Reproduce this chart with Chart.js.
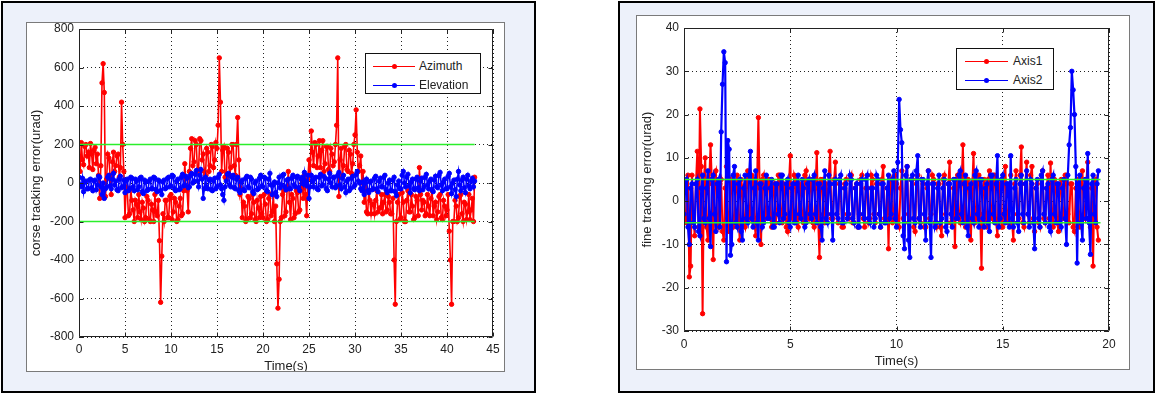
<!DOCTYPE html>
<html>
<head>
<meta charset="utf-8">
<script src="https://cdn.jsdelivr.net/npm/chart.js@4.4.1/dist/chart.umd.min.js"></script>
<style>
  body { margin: 0; width: 1156px; height: 394px; background: #fff; position: relative; overflow: hidden;
         font-family: "Liberation Sans", Arial, Helvetica, sans-serif; }
  .panel { position: absolute; background: #edf1fa; border: 2px solid #000; box-sizing: border-box; }
  .fig { position: absolute; background: #fff; outline: 1px solid #7a7a7a; overflow: hidden; }
  .fig canvas { position: absolute; left: 0; top: 0; }
  .legend { position: absolute; background: #fff; border: 1px solid #111; box-sizing: border-box;
            font-size: 12px; color: #222; padding-top: 3px; }
  .legend .row { position: relative; height: 19px; line-height: 19px; white-space: nowrap; }
  .legend .sample { position: absolute; top: 9px; height: 1px; }
  .legend .dot { position: absolute; top: -2px; width: 5px; height: 5px; border-radius: 50%; }
  .legend .txt { position: absolute; top: 0; }
</style>
</head>
<body>
<div class="panel" style="left:1px;top:1px;width:535px;height:392px"></div>
<div class="panel" style="left:618px;top:1px;width:537px;height:392px"></div>

<div class="fig" style="left:27px;top:23px;width:477px;height:348px">
  <canvas id="coarseChart" width="477" height="348"></canvas>
</div>
<div class="fig" style="left:637px;top:16px;width:492px;height:353px">
  <canvas id="fineChart" width="492" height="353"></canvas>
</div>

<div class="legend" id="coarseLegend" style="left:365px;top:53px;width:116px;height:41px"></div>
<div class="legend" id="fineLegend" style="left:956px;top:48px;width:98px;height:42px"></div>

<script>
// ---- coarse tracking (left), one row = 1 s ----
const coarseStep = 0.125; // s between samples
const azimuth = [
  130, 60, 210, 120, 95, 190, 200, 140,
  160, 80, 205, 150, 70, 170, 185, 100,
  150, 40, -80, 90, 520, 620, 470, -70,
  20, 150, 130, 40, -60, 110, 160, 60,
  90, 140, 150, 30, 80, 420, 200, 60,
  -180, -20, -40, -170, -160, -30, -90, -140,
  -200, -90, -110, -180, -60, -150, -190, -100,
  -130, -200, -180, -70, -90, -190, -200, -110,
  -140, -200, -60, -150, -170, -90, -300, -620,
  -380, -160, -200, -90, -90, -180, -180, -70,
  -60, -190, -150, -80, -100, -200, -190, -120,
  -80, -170, -160, -40, 100, -20, -40, -150,
  60, 180, 230, 90, 110, 220, 200, 60,
  70, 230, 220, 120, 150, 60, 40, 180,
  160, 60, 90, 200, 190, 80, 120, 210,
  180, 300, 650, 420, 60, 170, 190, 30,
  20, 180, 160, 40, 80, 200, 200, 90,
  40, 200, 340, 120, -60, -30, -180, -100,
  -120, -200, -190, -70, -80, -180, -160, -60,
  -100, -190, -200, -90, -130, -180, -70, -160,
  -180, -60, -110, -200, -190, -80, -60, -170,
  -150, -60, -200, -120, -420, -650, -500, -200,
  -180, -60, -40, -170, -150, -30, 60, -100,
  -190, -60, -80, -180, -160, -40, -50, -150,
  -140, -30, 0, -80, 40, -60, -170, 20,
  120, 40, 270, 160, 90, 210, 200, 80,
  140, 220, 80, 170, 220, 60, 100, 190,
  190, 70, 60, 180, 150, 90, 110, 200,
  300, 650, -70, 120, 180, 40, 90, 190,
  200, 70, 60, 170, 150, 50, 100, 200,
  250, 380, 160, 60, 90, 140, 0, 60,
  -100, -20, -150, -160, -40, -90, -160, -110,
  -110, -160, -90, -40, -150, -130, -130, -60,
  -160, -100, -60, -150, -140, -70, -100, -160,
  -160, -80, -400, -630, -200, -100, -60, -190,
  -180, -50, -100, -200, -200, -90, -40, -150,
  -150, -60, -120, -190, -180, -70, -90, -170,
  80, -60, -140, -90, -100, -170, -160, -60,
  -120, -170, -80, -40, -170, -120, -100, -190,
  -150, -70, -60, -180, -190, -90, -120, -170,
  -140, -60, -250, -400, -630, -200, -200, -90,
  -120, -200, -180, -70, -60, -160, -200, -100,
  -110, -190, -150, -60, -190, -140, -80, -200,
  30
];
const elevation = [
  30, -10, -20, 25, -45, 5, 10, -30,
  -30, 15, 20, -25, -40, 10, 15, -35,
  -10, 35, 30, -20, -60, 0, -80, -30,
  -20, 30, 40, -15, -30, 20, 50, -10,
  10, -35, -40, 20, 35, -25, -20, 15,
  -50, 10, 20, -40, -30, 30, 25, -20,
  -40, 20, 10, -35, -20, 25, 30, -45,
  -55, 15, 5, -40, -35, 10, 20, -30,
  -30, 30, 25, -35, -45, 15, 10, -40,
  -60, 5, 15, -30, -25, 25, 30, -20,
  -15, 40, 35, -30, -40, 10, 20, -35,
  -30, 30, 45, -15, -10, 35, 25, -25,
  -20, 40, 50, 0, 10, 45, 65, 10,
  -20, 40, 70, 20, -80, -30, 30, -20,
  -30, 15, 20, -35, -40, 10, 25, -30,
  -20, 30, 45, -10, -30, -60, -90, -20,
  10, 45, 50, -10, -20, 30, 40, -25,
  -30, 20, 30, -40, -50, 5, 15, -35,
  -40, 25, 35, -20, -25, 30, 20, -45,
  -55, 0, 10, -35, -30, 25, 40, -15,
  -20, 30, 25, -40, -45, 20, 50, -10,
  -60, -10, 5, -50, -70, 0, 30, -25,
  -10, 40, 45, -20, -35, 15, 20, -30,
  -30, 25, 40, -10, -20, 30, 35, -25,
  -40, 20, 30, -5, 55, 10, -15, 40,
  -80, -20, 40, 10, -20, 25, 30, -30,
  -35, 30, 45, -15, -10, 35, 25, -30,
  -40, 20, 50, 0, -20, 30, 30, -25,
  -15, 40, 55, -10, -30, 25, 40, -20,
  -50, 10, 20, -40, -30, 25, 35, -20,
  -10, 45, 60, 10, 0, -30, -40, 5,
  -60, 0, 20, -40, -50, 5, 10, -35,
  -30, 25, 35, -30, -45, 10, 25, -20,
  -20, 30, 40, -35, -50, 0, 15, -40,
  -40, 15, 30, -45, -65, -10, 10, -30,
  -30, 40, 60, 0, -20, 30, 45, -15,
  -50, 5, 20, -30, -35, 20, 30, -25,
  -40, 10, 25, -35, -20, 30, 45, -10,
  -30, 10, 20, -35, -45, 15, 35, -20,
  -25, 40, 55, -10, -40, 5, 20, -30,
  -30, 35, 50, -20, -55, 0, 15, -35,
  -70, 20, 60, -10, -40, 15, 30, -25,
  -50, 20, 40, -15, -30, 10, 25, -20,
  10
];
const coarseLimit = 200;        // green bounds +-200 urad
const coarseLimitEnd = 43;      // s
const coarseX = [0, 45, 5];     // min, max, step
const coarseY = [-800, 800, 200];

// ---- fine tracking (right), one row = 1 s ----
const fineStep = 0.0625;
const axis1 = [
  3, -4, -5, 6, -17.5, -15, 6, -3, -8, 4, 11.5, -6, 21.3, 8, -26, 5,
  10, -6, -9, 5, 13, 4, -13.5, 6, 7, -5, -6, 4, 5, -7, -9, 3,
  8, -4, -7, 5, 4, -6, -5, 3, 6, -4, -9, 5, 3, -5, -6, 4,
  7, -3, -4, 6, 5, -5, -8, 4, 19.3, 3, -10, 5, 6, -4, -3, 5,
  5, -4, -6, 3, 4, -5, -3, 6, 6, -3, -5, 4, 3, -6, -7, 4,
  10.5, -3, -4, 6, 5, -5, -6, 4, 3, -4, -5, 6, 7, -3, -4, 5,
  4, -5, -6, 3, 11.2, -4, -13, 5, 5, -3, -5, 4, -3, 6, 11.5, -4,
  -4, 5, 9, -3, -5, 4, 3, -6, -6, 4, 5, -3, -4, 5, 6, -5,
  -5, 3, 4, -6, -3, 5, 6, -4, -6, 3, 3, -5, -4, 6, 5, -3,
  -5, 4, 4, -3, -6, 5, 8, -4, -4, 3, -11, 4, 5, -5, -3, 6,
  4, -5, -6, 3, 7, -4, -5, 6, 8, -3, -4, 5, 5, -6, -7, 4,
  6, -4, -5, 5, 4, -6, -6, 3, 7, -4, -3, 6, 5, -5, -6, 4,
  4, -6, -8, 5, 6, -3, -5, 4, 9, -5, -4, 3, -10.5, 5, 6, -4,
  -5, 4, 13, -3, -6, 5, 5, -4, -9, 3, 11, -5, -4, 6, 6, -3,
  -15.5, 3, 5, -4, -6, 5, 7, -3, -4, 6, 6, -5, -8, 3, 4, -6,
  -6, 5, 8, -4, -5, 3, 6, -5, -9, 4, 7, -3, -4, 6, 12.5, -5,
  -6, 4, 9, -3, -5, 6, 8, -4, -7, 3, 4, -5, -6, 5, 7, -4,
  -5, 3, 6, -4, 8.8, -3, -6, 5, 4, -5, -7, 3, 5, -4, -4, 6,
  6, -3, -5, 4, 4, -6, -7, 3, 5, -4, -6, 5, 7, -3, -4, 5,
  9, -4, -6, 3, -15, 4, 5, -6, -9
];
const axis2 = [
  -3, 4, 5, -6, -10, 3, 4, -5, -6, 4, 5, -7, -8, 3, 6, -4,
  -5, 3, 7, -4, -10.5, 5, 6, -3, -7, 4, 5, -6, 16, 27, 34.5, 32,
  -14, 14, 12, -12.5, -10, 6, 8, -5, -6, 4, 5, -7, -9, 3, 6, -4,
  -5, 6, 11.5, -4, -6, 3, 7, -5, -9, 4, 4, -6, -5, 3, 6, -4,
  -4, 3, 5, -6, -6, 4, 4, -3, -5, 6, 6, -4, -3, 4, 5, -5,
  -6, 3, 4, -5, -5, 4, 6, -3, -4, 5, 3, -6, -5, 4, 5, -3,
  -4, 5, 6, -3, -5, 4, 4, -6, -9, 3, 7, -4, -5, 6, 4, -3,
  -9, 4, 5, -3, -4, 5, 6, -5, -5, 3, 4, -4, -3, 6, 5, -4,
  -5, 3, 4, -6, -6, 4, 5, -3, -4, 5, 6, -4, -5, 3, 3, -6,
  -4, 6, 5, -3, -6, 4, 4, -5, -5, 3, 6, -4, -3, 5, 7, -4,
  -6, 9, 23.5, 16.5, 13.5, -8, -11, 6, 8, -9, -13, 5, 6, -4, -5, 7,
  10.5, -4, -6, 5, 5, -3, -9, 4, 7, -5, -13, 4, 4, -6, -5, 3,
  6, -5, -4, 3, 5, -6, -7, 4, 4, -3, -6, 5, 5, -4, -4, 6,
  7, -3, -5, 4, 6, -6, -8, 3, 4, -4, -5, 6, 7, -3, -6, 5,
  5, -4, -6, 3, 4, -5, -7, 6, 6, -3, -5, 4, 10.5, -6, -4, 5,
  6, -3, -5, 4, 4, -6, 10.5, -4, -6, 3, 5, -5, -7, 4, 6, -3,
  -5, 4, 7, -3, -6, 5, 4, -5, -11, 3, 5, -4, -6, 6, 7, -3,
  -5, 3, 4, -6, -7, 5, 6, -3, -5, 4, 4, -5, -6, 3, 5, -4,
  -10, 6, 13, 17, 30, 25.7, 20, 8, -14.3, 4, 6, -5, -9, 3, 5, -4,
  11, -5, -12.3, 4, 6, -3, -5, 4, 7
];
const fineLimit = 5;
const fineLimitEnd = 19.6;
const fineX = [0, 20, 5];
const fineY = [-30, 40, 10];

const RED = "#ff0000", BLUE = "#0000ff", GREEN = "#2bee2b";

function toPoints(values, step) {
  return values.map((v, i) => ({ x: i * step, y: v }));
}

function seriesDataset(label, values, step, color, order, lw) {
  return {
    label: label,
    data: toPoints(values, step),
    borderColor: color,
    backgroundColor: color,
    borderWidth: lw,
    pointRadius: 2.2,
    pointBorderWidth: 1,
    pointStyle: "circle",
    order: order,
  };
}

function limitDataset(level, end) {
  return {
    data: [{ x: 0, y: level }, { x: end, y: level }],
    borderColor: GREEN,
    borderWidth: 1.5,
    pointRadius: 0,
    order: -1,
  };
}

// plot box with inward ticks, MATLAB style
const matlabBox = {
  id: "matlabBox",
  afterDraw(chart) {
    const { ctx, chartArea: a, scales } = chart;
    const L = Math.round(a.left) + 0.5, R = Math.round(a.right) - 0.5;
    const T = Math.round(a.top) + 0.5, B = Math.round(a.bottom) - 0.5;
    ctx.save();
    ctx.strokeStyle = "#222";
    ctx.lineWidth = 1;
    ctx.beginPath();
    scales.x.ticks.forEach((t) => {
      const px = Math.round(scales.x.getPixelForValue(t.value)) + 0.5;
      ctx.moveTo(px, B); ctx.lineTo(px, B - 4);
      ctx.moveTo(px, T); ctx.lineTo(px, T + 4);
    });
    scales.y.ticks.forEach((t) => {
      const py = Math.round(scales.y.getPixelForValue(t.value)) + 0.5;
      ctx.moveTo(L, py); ctx.lineTo(L + 4, py);
      ctx.moveTo(R, py); ctx.lineTo(R - 4, py);
    });
    ctx.rect(L, T, R - L, B - T);
    ctx.stroke();
    ctx.restore();
  },
};

function makeChart(id, datasets, cfg) {
  const ctx = document.getElementById(id).getContext("2d");
  return new Chart(ctx, {
    type: "line",
    data: { datasets: datasets },
    options: {
      responsive: false,
      animation: false,
      events: [],
      layout: { padding: { top: cfg.top, right: cfg.right, left: 0, bottom: 0 } },
      plugins: { legend: { display: false }, tooltip: { enabled: false } },
      scales: {
        x: {
          type: "linear",
          min: cfg.xr[0], max: cfg.xr[1],
          afterBuildTicks: (s) => {
            s.ticks = [];
            for (let v = cfg.xr[0]; v <= cfg.xr[1]; v += cfg.xr[2]) s.ticks.push({ value: v });
          },
          afterFit: (s) => { s.height = cfg.xh; s.paddingLeft = 0; s.paddingRight = 0; },
          grid: { color: "#222", lineWidth: 1, drawTicks: false },
          border: { display: false, dash: [1, 3] },
          ticks: { color: "#222", padding: cfg.xpad, maxRotation: 0, font: { size: 12, family: "Liberation Sans" } },
          title: { display: true, text: "Time(s)", color: "#222", font: { size: 13, family: "Liberation Sans" },
                   padding: { top: 0, bottom: cfg.xtitlePad } },
        },
        y: {
          type: "linear",
          min: cfg.yr[0], max: cfg.yr[1],
          afterBuildTicks: (s) => {
            s.ticks = [];
            for (let v = cfg.yr[0]; v <= cfg.yr[1]; v += cfg.yr[2]) s.ticks.push({ value: v });
          },
          afterFit: (s) => { s.width = cfg.yw; s.paddingTop = 0; s.paddingBottom = 0; },
          grid: { color: "#222", lineWidth: 1, drawTicks: false },
          border: { display: false, dash: [1, 3] },
          ticks: { color: "#222", padding: 5, font: { size: 12, family: "Liberation Sans" } },
          title: { display: true, text: cfg.ytitle, color: "#222", font: { size: 13, family: "Liberation Sans" },
                   padding: { top: cfg.ytitlePad, bottom: 0 } },
        },
      },
    },
    plugins: [matlabBox],
  });
}

const coarseChart = makeChart("coarseChart", [
  seriesDataset("Azimuth", azimuth, coarseStep, RED, 1, 1.6),
  seriesDataset("Elevation", elevation, coarseStep, BLUE, 0, 1.6),
  limitDataset(coarseLimit, coarseLimitEnd),
  limitDataset(-coarseLimit, coarseLimitEnd),
], { top: 6, right: 11, xh: 34, yw: 52, xpad: 5, xtitlePad: -3, ytitlePad: 2,
     xr: coarseX, yr: coarseY, ytitle: "corse tracking error(urad)" });

const fineChart = makeChart("fineChart", [
  seriesDataset("Axis1", axis1, fineStep, RED, 1, 2),
  seriesDataset("Axis2", axis2, fineStep, BLUE, 0, 2.2),
  limitDataset(fineLimit, fineLimitEnd),
  limitDataset(-fineLimit, fineLimitEnd),
], { top: 12, right: 20, xh: 38, yw: 47, xpad: 6, xtitlePad: 0, ytitlePad: 3,
     xr: fineX, yr: fineY, ytitle: "fine tracking error(urad)" });

// boxed legend inside the axes
function buildLegend(chart, elId, sampleLeft, sampleWidth, textLeft) {
  const box = document.getElementById(elId);
  chart.data.datasets.filter((d) => d.label).forEach((d) => {
    const row = document.createElement("div");
    row.className = "row";
    row.innerHTML =
      `<div class="sample" style="left:${sampleLeft}px;width:${sampleWidth}px;background:${d.borderColor}">` +
      `<div class="dot" style="left:${sampleWidth / 2 - 2.5}px;background:${d.borderColor}"></div></div>` +
      `<span class="txt" style="left:${textLeft}px">${d.label}</span>`;
    box.appendChild(row);
  });
}
buildLegend(coarseChart, "coarseLegend", 7, 42, 53);
buildLegend(fineChart, "fineLegend", 8, 43, 56);
</script>
</body>
</html>
